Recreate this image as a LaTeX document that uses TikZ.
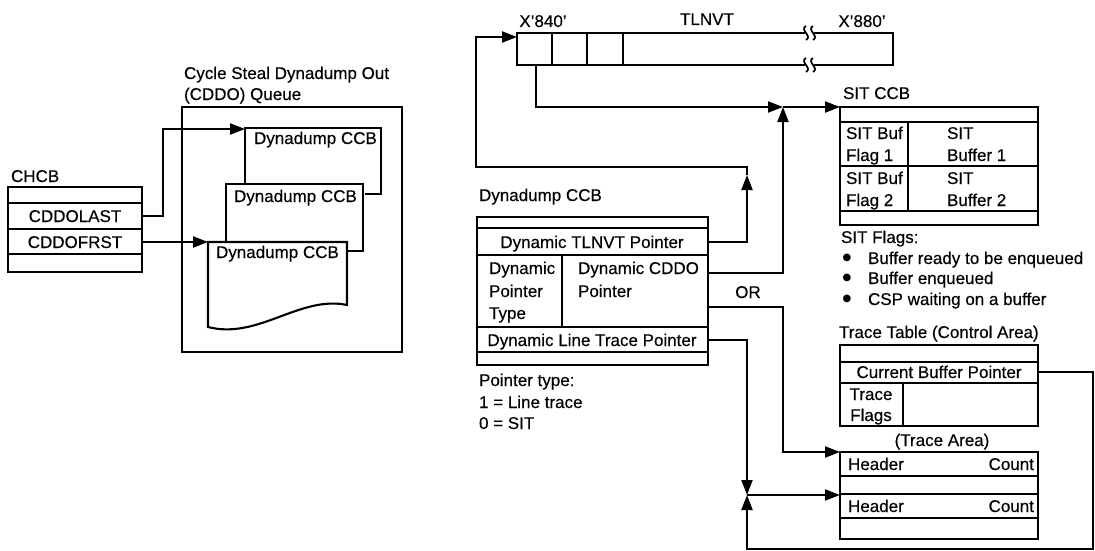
\documentclass[tikz,border=0pt]{standalone}
\usepackage{fontspec}
\setmainfont{Liberation Sans}
\newfontfamily\medsans{Liberation Sans}[FakeBold=0.35]
\newfontfamily\dejavu{DejaVu Sans}
\usetikzlibrary{arrows.meta}
\begin{document}
\begin{tikzpicture}[x=1pt,y=-1pt,
  line width=2.1pt, line join=miter,
  txt/.style={inner sep=0pt, text height=12pt, text depth=0pt, font=\medsans\fontsize{17}{20}\selectfont},
  lt/.style={txt, anchor=west},
  rt/.style={txt, anchor=east},
  bul/.style={inner sep=0pt, font=\dejavu\fontsize{10}{12}\selectfont},
  arr/.style={-{Triangle[length=15pt,width=11pt]}},
  squig/.style={line width=1.7pt}
]
\useasboundingbox (0,0) rectangle (1095,551);

% ---------------- CHCB ----------------
\node[lt] (chcbL) at (10,176) {CHCB};
\draw (8,187) rectangle (142,272);
\draw (8,203) -- (142,203) (8,229) -- (142,229) (8,254) -- (142,254);
\node[txt] (cddolast) at (75,216) {CDDOLAST};
\node[txt] (cddofrst) at (75,242) {CDDOFRST};
\coordinate (lastOut) at (142,216);
\coordinate (frstOut) at (142,242);

% ---------------- CDDO queue ----------------
\node[lt] (q1) at (183,73) {Cycle Steal Dynadump Out};
\node[lt] (q2) at (183,94) {(CDDO) Queue};
\draw (182,107) rectangle (402,352);
\draw (245,184) -- (245,128) -- (381,128) -- (381,194) -- (365,194);
\draw (226,242) -- (226,184) -- (363,184) -- (363,251) -- (347,251);
\draw (208,242) -- (347,242) -- (347,305) .. controls (300,295) and (258,340) .. (208,327) -- cycle;
\node[lt] (ccbA) at (253,138) {Dynadump CCB};
\node[lt] (ccbB) at (233,196) {Dynadump CCB};
\node[lt] (ccbC) at (215,252) {Dynadump CCB};
\coordinate (aIn) at (245,129);
\coordinate (cIn) at (208,242);
\draw[arr] (lastOut) -- (163,216) |- (aIn);
\draw[arr] (frstOut) -- (cIn);

% ---------------- TLNVT ----------------
\node[txt] (x840) at (543,21) {X’840’};
\node[txt] (tlnvtL) at (707,19) {TLNVT};
\node[txt] (x880) at (862,21) {X’880’};
\draw (805,33) -- (517,33) -- (517,65) -- (805,65);
\draw (814,33) -- (893,33) -- (893,65) -- (814,65);
\draw (552,33) -- (552,65) (587,33) -- (587,65) (623,33) -- (623,65);
\foreach \yy in {33,65}{
  \foreach \xx in {806,813}{
    \draw[squig] (\xx,\yy-7) .. controls (\xx-7,\yy-3) and (\xx+7,\yy+3) .. (\xx,\yy+7);
  }
}
\coordinate (tlIn) at (517,37);
\coordinate (cell1) at (536,65);
\coordinate (jn1) at (783,107);
\coordinate (sitIn) at (840,107);
\draw[arr] (cell1) |- (jn1);
\draw[arr] (jn1) -- (sitIn);

% ---------------- Dynadump CCB ----------------
\node[lt] (ddL) at (478,195) {Dynadump CCB};
\draw (477,217) rectangle (708,365);
\draw (477,228) -- (708,228) (477,255) -- (708,255) (477,327) -- (708,327)
      (477,352) -- (708,352) (562,255) -- (562,327);
\node[txt] (dtp) at (592,242) {Dynamic TLNVT Pointer};
\node[lt] (dpt1) at (488,268) {Dynamic};
\node[lt] (dpt2) at (488,291) {Pointer};
\node[lt] (dpt3) at (488,313) {Type};
\node[lt] (dcp1) at (577,268) {Dynamic CDDO};
\node[lt] (dcp2) at (577,291) {Pointer};
\node[txt] (dltp) at (592,340) {Dynamic Line Trace Pointer};
\node[lt] (pt1) at (478,380) {Pointer type:};
\node[lt] (pt2) at (478,402) {1 = Line trace};
\node[lt] (pt3) at (478,423) {0 = SIT};
\coordinate (tlnvtOut) at (708,242);
\coordinate (cddoOut) at (708,273);
\coordinate (traceOut1) at (708,307);
\coordinate (ltOut) at (708,340);
\coordinate (loopTip) at (747,175);
\coordinate (loopTop) at (747,167);
\coordinate (loopLeft) at (476,167);

\draw[arr] (tlnvtOut) -| (loopTip);
\draw[arr] (loopTip) -- (loopTop) -- (loopLeft) |- (tlIn);
\draw[arr] (cddoOut) -| (jn1);
\node[txt] (or) at (748,292) {OR};

% ---------------- SIT CCB ----------------
\node[lt] (sitL) at (842,93) {SIT CCB};
\draw (840,107) rectangle (1038,225);
\draw (840,122) -- (1038,122) (840,166) -- (1038,166) (840,211) -- (1038,211) (908,122) -- (908,211);
\node[lt] (sb1) at (845,133) {SIT Buf};
\node[lt] (sf1) at (845,155) {Flag 1};
\node[lt] (sb2) at (845,178) {SIT Buf};
\node[lt] (sf2) at (845,200) {Flag 2};
\node[lt] (s1) at (946,133) {SIT};
\node[lt] (bf1) at (946,155) {Buffer 1};
\node[lt] (s2) at (946,178) {SIT};
\node[lt] (bf2) at (946,200) {Buffer 2};
\node[lt] (sflags) at (840,237) {SIT Flags:};
\node[bul] (b1) at (847,258) {●};
\node[bul] (b2) at (847,278) {●};
\node[bul] (b3) at (847,299) {●};
\node[lt] (f1) at (867,258) {Buffer ready to be enqueued};
\node[lt] (f2) at (867,278) {Buffer enqueued};
\node[lt] (f3) at (867,299) {CSP waiting on a buffer};

% ---------------- Trace table ----------------
\node[lt] (ttL) at (838,332) {Trace Table (Control Area)};
\draw (840,345) rectangle (1038,426);
\draw (840,362) -- (1038,362) (840,383) -- (1038,383) (903,383) -- (903,426);
\node[txt] (cbp) at (939,372) {Current Buffer Pointer};
\node[txt] (tf1) at (871,394) {Trace};
\node[txt] (tf2) at (871,415) {Flags};
\node[txt] (taL) at (942,440) {(Trace Area)};
\draw (840,452) rectangle (1038,539);
\draw (840,476) -- (1038,476) (840,494) -- (1038,494) (840,518) -- (1038,518);
\node[lt] (h1) at (847,464) {Header};
\node[rt] (c1) at (1035,464) {Count};
\node[lt] (h2) at (847,506) {Header};
\node[rt] (c2) at (1035,506) {Count};

\coordinate (taIn1) at (840,452);
\coordinate (taIn2) at (840,495);
\coordinate (jn2) at (747,495);
\coordinate (cbOut) at (1038,372);
\coordinate (rEdge) at (1093,372);
\coordinate (rBot) at (1093,549);
\draw[arr] (traceOut1) -- (783,307) |- (taIn1);
\draw[arr] (ltOut) -| (jn2);
\draw[arr] (cbOut) -- (rEdge) -- (rBot) -| (jn2);
\draw[arr] (jn2) -- (taIn2);
\end{tikzpicture}
\end{document}
